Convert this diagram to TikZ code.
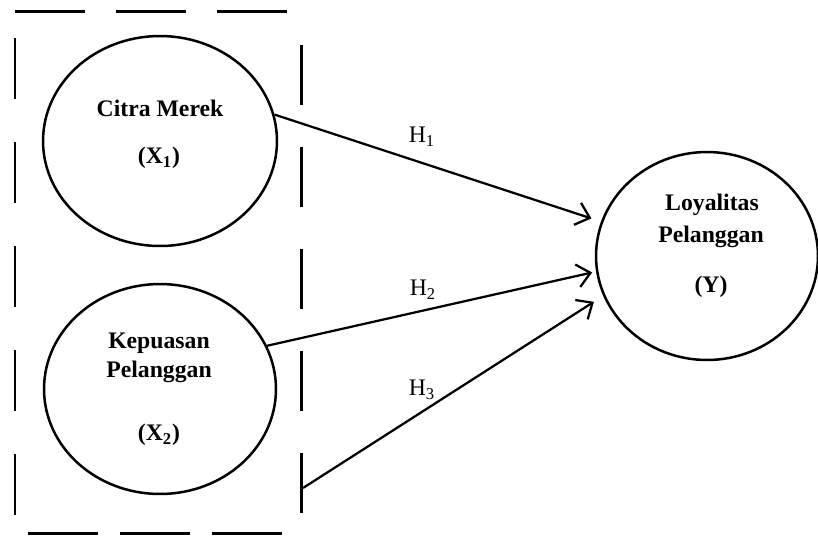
\documentclass[tikz,border=0pt]{standalone}
\usepackage{fontspec}
\setmainfont{Liberation Serif}
\usetikzlibrary{positioning}
\usetikzlibrary{shapes.geometric}
\usetikzlibrary{arrows.meta}

\tikzset{
  konstruk/.style={ellipse, draw, line width=0.05cm, inner sep=0pt},
  teks/.style={font=\fontsize{13.5}{15}\selectfont\bfseries, inner sep=0pt},
  hipo/.style={font=\fontsize{13.5}{15}\selectfont, inner sep=0pt},
  panah/.style={-{Straight Barb[length=0.26cm,width=0.46cm]}, line width=0.045cm},
  bingkai/.style={line width=0.06cm}
}

\begin{document}
\begin{tikzpicture}[x=0.02cm, y=-0.02cm]
\useasboundingbox (0,0) rectangle (818,539);

% bingkai putus-putus
\draw[bingkai, dash pattern=on 1.4cm off 0.62cm] (15,11) -- (287,11);
\draw[bingkai, dash pattern=on 1.4cm off 0.44cm] (28,533) -- (283,533);
\draw[bingkai, dash pattern=on 1.22cm off 0.86cm] (15,38) -- (15,517);
\draw[bingkai, dash pattern=on 1.2cm off 0.84cm] (301,45) -- (301,515);

% variabel
\node[konstruk, minimum width=4.68cm, minimum height=4.2cm] (x1) at (160,141) {};
\node[konstruk, minimum width=4.64cm, minimum height=4.2cm] (x2) at (160,389) {};
\node[konstruk, minimum width=4.44cm, minimum height=4.16cm] (y) at (707,256) {};

\node[teks] (x1a) at (160,108) {Citra Merek};
\node[teks] (x1b) at (159,158) {(X\textsubscript{1})};

\node[teks] (x2a) at (159,343) {Kepuasan};
\node[teks] (x2b) at (159,372) {Pelanggan};
\node[teks] (x2c) at (159,435) {(X\textsubscript{2})};

\node[teks] (ya) at (712,205) {Loyalitas};
\node[teks] (yb) at (711,237) {Pelanggan};
\node[teks] (yc) at (711,287) {(Y)};

% hipotesis
\coordinate (h3awal) at (303,488);

\draw[panah, shorten >=0.2cm] (x1.13) -- (y.162);
\draw[panah, shorten >=0.08cm] (x2.22) -- (y.188);
\draw[panah, shorten >=0.22cm] (h3awal) -- (y.201);

\node[hipo] (h1) at (422,137) {H\textsubscript{1}};
\node[hipo] (h2) at (423,290) {H\textsubscript{2}};
\node[hipo] (h3) at (422,390) {H\textsubscript{3}};

\end{tikzpicture}
\end{document}
